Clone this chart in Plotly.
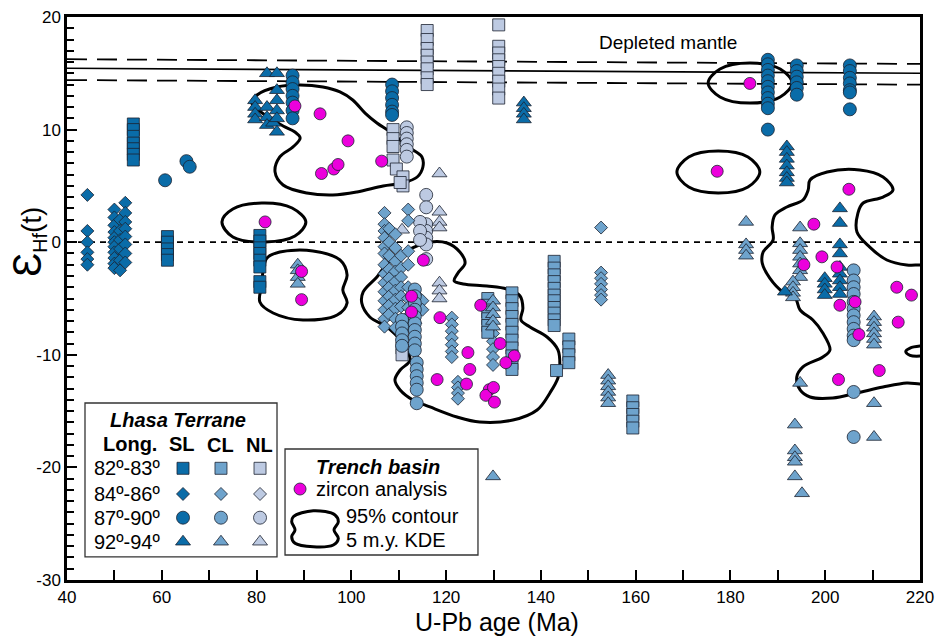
import plotly.graph_objects as go

FONT = "Liberation Sans, Arial, Helvetica, sans-serif"

# ---------------- data (age in Ma, eHf(t)) ----------------
# Depleted mantle band
dm_age = [40, 220]
dm_mid = [15.45, 15.0]
dm_hi = [16.25, 15.83]
dm_lo = [14.4, 13.99]

# axis ticks
x_ticks = [40, 60, 80, 100, 120, 140, 160, 180, 200, 220]
y_ticks = [20, 10, 0, -10, -20, -30]
y_tick_labels = ["20", "10", "0", "-10", "-20", "-30"]

# Lhasa terrane columns: (age, [eHf values])
sl_square = [(54.0, [10.5, 10.0, 9.4, 8.8, 8.3, 7.8, 7.3]),
             (61.2, [0.5, 0.0, -0.6, -1.1, -1.6]),
             (80.7, [0.6, 0.1, -0.5, -1.0, -1.6, -2.2, -3.5, -4.0])]
sl_diamond = [(44.3, [4.2, 1.0, 0.0, -0.9, -1.5, -2.0]),
              (50.0, [2.9, 2.2, 1.5, 0.9, 0.4, 0.0, -0.4, -0.9, -1.4, -1.9, -2.3]),
              (51.2, [2.0, 1.0, 0.2, -0.6, -1.6, -2.5]),
              (52.3, [3.5, 2.6, 1.8, 1.2, 0.5, -0.2, -1.0, -1.8])]
sl_circle = [(60.7, [5.5]), (65.2, [7.2]), (65.9, [6.7]),
             (87.6, [14.8, 14.2, 13.6, 13.0, 12.4, 11.7, 11.0]),
             (108.6, [14.0, 13.4, 12.8, 12.2, 11.6, 11.3]),
             (187.9, [16.2, 15.8, 15.3, 14.8, 14.3, 13.8, 13.3, 12.8, 12.3, 11.9, 10.0]),
             (194.0, [15.7, 15.2, 14.7, 14.2, 13.7, 13.1]),
             (205.2, [15.7, 15.2, 14.6, 14.1, 13.5, 13.3, 11.8])]
sl_triangle = [(79.7, [12.6, 12.0, 11.4, 10.9]),
               (82.2, [15.0, 12.0, 11.1, 10.4]),
               (83.5, [10.6]),
               (84.3, [15.0, 13.5, 12.6, 11.7, 11.0, 9.8]),
               (136.4, [12.4, 11.9, 11.4, 10.9]),
               (191.9, [8.5, 8.0, 7.4, 6.8, 6.2, 5.7, 5.3]),
               (203.1, [3.0, 1.7, -0.2, -1.0, -2.2, -2.8, -3.4, -4.0, -4.6]),
               (199.9, [-3.2, -3.7, -4.2, -4.7]),
               (191.5, [-4.4])]

cl_square = [(128.8, [-5.0, -5.6, -6.2, -6.8, -7.4, -8.0]),
             (133.9, [-4.5, -5.2, -5.9, -6.6, -7.3, -8.0, -8.7, -9.4, -10.1, -10.8, -11.3]),
             (142.8, [-1.7, -2.3, -2.9, -3.5, -4.1, -4.7, -5.2, -5.8, -6.3, -6.9, -7.4]),
             (143.3, [-11.4]),
             (145.9, [-8.6, -9.3, -10.0, -10.7]),
             (159.4, [-14.1, -14.7, -15.3, -15.9, -16.5])]
cl_diamond = [(107.0, [2.6, 1.6, 1.0, 0.4, -0.4, -1.0, -2.0, -2.8, -3.6, -4.4, -5.2, -6.0, -6.8, -7.5]),
              (108.0, [1.2, 0.0, -1.2, -2.4, -3.2, -4.0, -4.8, -5.6, -6.4]),
              (109.3, [0.7, -0.5, -1.7, -2.6, -3.5, -4.3, -5.1, -5.9, -6.8, -7.6]),
              (110.5, [-1.2, -2.3, -3.1, -4.0, -4.8, -5.7]),
              (112.0, [2.9, 1.9, -0.8, -2.0, -4.0, -5.0, -5.8, -6.6, -7.4]),
              (113.5, [-4.6, -5.4, -6.3, -7.2]),
              (115.0, [-5.2, -6.0]),
              (121.2, [-6.7, -7.3, -7.9, -8.5, -9.1, -9.7, -10.2]),
              (122.5, [-12.4, -12.9, -13.4, -13.9]),
              (129.9, [-8.1, -8.8, -9.5, -10.2, -10.9]),
              (152.7, [1.3, -2.7, -3.2, -3.7, -4.2, -4.7, -5.1])]
cl_circle = [(110.7, [-6.9, -7.5, -8.1, -8.7, -9.2]),
             (113.4, [-4.2, -4.8, -5.4, -6.0, -6.6, -7.2, -7.8, -8.4, -9.0, -9.6]),
             (113.8, [-10.7, -11.3, -11.9, -12.5, -13.1, -14.3]),
             (206.0, [-2.5, -3.4, -4.0, -4.6, -5.3, -5.9, -6.5, -7.1, -7.7, -8.3, -8.7, -13.3, -17.3])]
cl_triangle = [(88.7, [-2.0, -2.5, -3.1, -3.7]),
               (129.9, [-5.2, -5.8, -6.4, -7.0, -7.5, -20.8]),
               (154.2, [-11.8, -12.3, -12.8, -13.3, -13.8, -14.3]),
               (183.3, [1.8, -0.2, -0.7, -1.2]),
               (194.7, [1.3, -0.1, -0.7, -1.3, -1.9, -2.5, -3.1, -12.5]),
               (193.2, [-3.5, -4.0, -4.5, -4.9]),
               (193.6, [-16.2, -18.5, -19.1, -19.5, -20.8]),
               (195.1, [-22.3]),
               (210.3, [-6.6, -7.1, -7.6, -8.1, -8.6, -9.1, -14.3, -17.3])]

nl_square = [(116.0, [18.8, 18.0, 17.2, 16.6, 16.0, 15.4, 14.6, 14.0]),
             (131.1, [19.3, 17.4, 16.8, 16.2, 15.6, 15.0, 14.3, 13.6, 12.8]),
             (108.8, [10.0, 9.2, 8.5, 7.3]),
             (109.5, [6.5]),
             (110.9, [5.8, 5.0]),
             (110.3, [5.3]),
             (110.7, [-9.4, -10.0])]
nl_circle = [(111.7, [10.2, 9.7, 9.2, 8.7, 8.2, 7.6]),
             (115.8, [4.2, 3.1, 1.6, 1.0, 0.4, -0.2, -1.5]),
             (114.5, [1.8, 1.0, 0.2])]
nl_triangle = [(118.6, [6.1, 2.7, 1.8, 1.3, -3.6, -4.3, -5.0]),
               (110.7, [1.1])]

# Trench basin zircon analyses
zr_age = [88.1, 93.4, 99.3, 93.7, 96.3, 97.2, 106.4, 81.8, 89.5, 89.5,
          115.2, 112.7, 112.7, 118.7, 127.3, 131.4, 134.4, 132.6, 124.6, 125.0,
          118.1, 124.3, 129.1, 128.4, 130.0, 130.2,
          184.1, 177.2, 205.0, 197.6, 199.3, 195.5, 202.5, 203.1, 206.3, 207.1,
          202.8, 211.4, 215.1, 218.2, 215.4]
zr_ehf = [12.1, 11.4, 9.0, 6.1, 6.5, 6.9, 7.2, 1.8, -2.6, -5.1,
          -1.6, -4.8, -6.2, -6.7, -5.6, -9.0, -10.1, -10.7, -9.8, -11.3,
          -12.2, -12.6, -13.1, -13.6, -12.9, -14.2,
          14.1, 6.3, 4.7, 1.6, -1.3, -2.0, -2.2, -5.6, -5.3, -8.2,
          -12.2, -11.4, -4.0, -4.7, -7.1]

# 95% KDE contours (vertices, age / eHf)
ca_age = [80.1, 84.3, 89.2, 94.0, 97.6, 100.3, 102.9, 105.4, 108.2, 112.4, 114.9, 115.1,
          113.9, 110.9, 106.7, 101.2, 96.1, 90.6, 85.6, 83.9, 84.9, 87.7, 89.2, 88.1,
          85.6, 81.8, 79.0, 80.1]
ca_ehf = [13.07, 13.78, 13.96, 13.78, 13.34, 12.63, 11.47, 10.59, 9.79, 8.37, 7.57, 6.68,
          5.79, 5.26, 4.99, 4.46, 4.19, 4.37, 5.08, 6.24, 7.57, 8.46, 9.26, 9.79,
          10.32, 11.3, 12.36, 13.07]
cb_age = [72.7, 75.0, 81.1, 87.5, 90.4, 88.1, 81.8, 75.0, 72.7]
cb_ehf = [1.80, 2.95, 3.48, 3.04, 1.80, 0.55, 0.02, 0.46, 1.80]
cc_age = [82.2, 84.9, 91.9, 97.6, 99.1, 98.2, 99.1, 97.0, 89.8, 83.5, 80.7, 81.1, 81.4, 82.2]
cc_ehf = [-1.40, -0.87, -0.78, -1.58, -2.91, -4.24, -5.40, -6.47, -6.91, -6.29, -5.31,
          -3.80, -2.47, -1.40]
cd_age = [116.6, 120.2, 122.9, 124.0, 122.5, 121.7, 123.6, 128.6, 132.8, 135.6, 136.2,
          135.8, 137.7, 141.3, 143.6, 144.0, 143.6, 141.9, 139.2, 134.1, 127.1, 122.3,
          116.6, 113.0, 110.3, 109.2, 110.3, 112.4, 110.3, 107.5, 103.9, 102.2, 102.5,
          105.4, 107.7, 112.0, 116.6]
cd_ehf = [0.02, -0.07, -0.87, -1.85, -2.73, -3.44, -3.71, -3.89, -4.16, -4.78, -5.84,
          -6.91, -7.53, -8.42, -9.57, -10.91, -12.06, -13.39, -14.90, -15.79, -15.97, -15.52,
          -14.63, -14.01, -13.12, -12.24, -11.35, -10.46, -8.68, -7.53, -6.64, -5.40, -4.42,
          -3.09, -1.85, -0.69, 0.02]
ce_age = [175.3, 177.8, 184.1, 190.5, 193.0, 190.5, 184.1, 177.8, 175.3]
ce_ehf = [14.14, 15.38, 15.91, 15.38, 14.14, 12.90, 12.36, 12.90, 14.14]
cf_age = [168.7, 171.2, 177.4, 183.7, 186.2, 183.7, 177.4, 171.2, 168.7]
cf_ehf = [6.23, 7.57, 8.10, 7.57, 6.23, 4.90, 4.37, 4.90, 6.23]
cg_age = [196.8, 200.4, 207.3, 212.2, 214.3, 212.2, 208.0, 206.9, 206.7, 209.4, 213.0,
          217.2, 220.0, 224.0, 224.0, 220.0, 217.2, 212.2, 206.7, 201.6, 196.8, 194.7, 194.0,
          195.3, 199.5, 201.0, 199.5, 197.4, 194.7, 193.6, 191.1, 188.3, 186.7, 186.9,
          189.0, 188.8, 189.4, 191.9, 195.3, 196.4, 196.8]
cg_ehf = [5.52, 6.23, 6.41, 5.79, 4.64, 4.01, 3.48, 2.59, 0.91, -0.43, -1.58,
          -2.02, -2.02, -2.02, -12.6, -12.59, -12.50, -12.86, -13.39, -13.84, -13.75, -13.12,
          -11.97, -11.08, -10.19, -9.57, -8.06, -6.91, -6.02, -4.87, -4.42, -3.18, -1.85,
          -0.87, 0.20, 1.35, 2.42, 3.13, 3.75, 4.64, 5.52]
ch_age = [220.5, 217.9, 217.0, 217.9, 220.5]
ch_ehf = [-9.2, -9.4, -9.7, -10.05, -10.1]

# ---------------- styles ----------------
C_SL = "#0a6ca8"
C_CL = "#6ea3cc"
C_NL = "#bdcae2"
C_ZR = "#ec00dc"
EDGE = dict(color="#1c2230", width=0.8)
SIZES = {"square": 12, "diamond": 10, "circle": 13, "triangle-up": 13}


def expand(cols):
    xs, ys = [], []
    for a, vals in cols:
        for v in vals:
            xs.append(a)
            ys.append(v)
    return xs, ys


fig = go.Figure()

# reference lines
fig.add_trace(go.Scatter(x=[40, 220], y=[0, 0], mode="lines",
                         line=dict(color="black", width=1.8, dash="6px,5px"), hoverinfo="skip"))
fig.add_trace(go.Scatter(x=dm_age, y=dm_mid, mode="lines",
                         line=dict(color="black", width=1.6), hoverinfo="skip"))
for yy in (dm_hi, dm_lo):
    fig.add_trace(go.Scatter(x=dm_age, y=yy, mode="lines",
                             line=dict(color="black", width=1.8, dash="20px,10px"), hoverinfo="skip"))

# contours
for ax, ay in [(ca_age, ca_ehf), (cb_age, cb_ehf), (cc_age, cc_ehf), (cd_age, cd_ehf),
               (ce_age, ce_ehf), (cf_age, cf_ehf), (cg_age, cg_ehf), (ch_age, ch_ehf)]:
    fig.add_trace(go.Scatter(x=ax, y=ay, mode="lines",
                             line=dict(color="black", width=3, shape="spline", smoothing=1.0),
                             hoverinfo="skip"))

# Lhasa terrane data (drawn light -> dark)
groups = [
    (nl_square, "square", C_NL), (nl_circle, "circle", C_NL), (nl_triangle, "triangle-up", C_NL),
    (cl_diamond, "diamond", C_CL), (cl_square, "square", C_CL), (cl_circle, "circle", C_CL),
    (cl_triangle, "triangle-up", C_CL),
    (sl_square, "square", C_SL), (sl_diamond, "diamond", C_SL), (sl_circle, "circle", C_SL),
    (sl_triangle, "triangle-up", C_SL),
]
for cols, sym, col in groups:
    xs, ys = expand(cols)
    fig.add_trace(go.Scatter(x=xs, y=ys, mode="markers",
                             marker=dict(symbol=sym, size=SIZES[sym], color=col, line=EDGE),
                             cliponaxis=False))

# zircon analyses
fig.add_trace(go.Scatter(x=zr_age, y=zr_ehf, mode="markers",
                         marker=dict(symbol="circle", size=12, color=C_ZR, line=EDGE)))

# ---------------- legend keys (overlay axes, fractions of plot area) ----------------
key_cols = [0.1360, 0.1805, 0.2263]
key_rows = [0.1984, 0.1528, 0.1107, 0.0680]
key_syms = ["square", "diamond", "circle", "triangle-up"]
for ci, col in enumerate([C_SL, C_CL, C_NL]):
    for ri, sym in enumerate(key_syms):
        fig.add_trace(go.Scatter(x=[key_cols[ci]], y=[key_rows[ri]], mode="markers",
                                 xaxis="x2", yaxis="y2",
                                 marker=dict(symbol=sym, size=SIZES[sym], color=col, line=EDGE)))
fig.add_trace(go.Scatter(x=[0.2732], y=[0.1616], mode="markers", xaxis="x2", yaxis="y2",
                         marker=dict(symbol="circle", size=12, color=C_ZR, line=EDGE)))
blob_x = [0.2653, 0.2887, 0.3142, 0.3181, 0.3130, 0.3181, 0.3122, 0.2887, 0.2673, 0.2634,
          0.2673, 0.2634, 0.2653]
blob_y = [0.1124, 0.1231, 0.1155, 0.1036, 0.0888, 0.0741, 0.0622, 0.0591, 0.0652, 0.0769,
          0.0888, 0.1036, 0.1124]
fig.add_trace(go.Scatter(x=blob_x, y=blob_y, mode="lines", xaxis="x2", yaxis="y2",
                         line=dict(color="black", width=3, shape="spline", smoothing=1.0)))

shapes = [
    dict(type="rect", xref="paper", yref="paper", x0=0.0211, x1=0.2462, y0=0.0409, y1=0.3144,
         line=dict(color="#333", width=1.3), fillcolor="white", layer="below"),
    dict(type="rect", xref="paper", yref="paper", x0=0.2556, x1=0.4818, y0=0.0444, y1=0.2327,
         line=dict(color="#333", width=1.3), fillcolor="white", layer="below"),
]

ann = []


def A(text, x, y, size=20, xanchor="center", xref="paper", yref="paper", **kw):
    ann.append(dict(text=text, x=x, y=y, xref=xref, yref=yref, showarrow=False,
                    xanchor=xanchor, yanchor="middle",
                    font=dict(family=FONT, size=size, color="black"), **kw))


A("<b><i>Lhasa Terrane</i></b>", 0.1301, 0.2842, size=20)
A("<b>Long.</b>", 0.0739, 0.2420, size=20)
A("<b>SL</b>", 0.1348, 0.2420, size=20)
A("<b>CL</b>", 0.1805, 0.2400, size=20)
A("<b>NL</b>", 0.2251, 0.2400, size=20)
for lab, yy in zip(["82º-83º", "84º-86º", "87º-90º", "92º-94º"], key_rows):
    A(lab, 0.0703, yy, size=20)
A("<b><i>Trench basin</i></b>", 0.3646, 0.2007, size=20)
A("zircon analysis", 0.2890, 0.1616, size=20, xanchor="left")
A("95% contour", 0.3250, 0.1137, size=20, xanchor="left")
A("5 m.y. KDE", 0.3250, 0.0710, size=20, xanchor="left")
A("Depleted mantle", 166.8, 17.7, size=19, xref="x", yref="y")
A("U-Pb age (Ma)", 0.5041, -0.0746, size=25)
A("<span style='font-size:40px'>Ɛ</span><sub>Hf</sub>(t)", -0.0450, 0.6000, size=28, textangle=-90)

fig.update_layout(
    width=936, height=636,
    margin=dict(l=67, r=16, t=17, b=56, autoexpand=False),
    paper_bgcolor="white", plot_bgcolor="white",
    showlegend=False,
    font=dict(family=FONT, size=17, color="black"),
    shapes=shapes, annotations=ann,
    xaxis=dict(range=[40, 220], tickvals=x_ticks, ticks="inside", ticklen=10, tickwidth=1.8,
               tickcolor="black", showline=True, linecolor="black", linewidth=2.5, mirror=True,
               showgrid=False, zeroline=False, tickfont=dict(size=17), automargin=False,
               minor=dict(dtick=10, ticks="inside", ticklen=10, tickwidth=1.8, tickcolor="black",
                          showgrid=False)),
    yaxis=dict(range=[-30, 20], tickvals=y_ticks, ticktext=y_tick_labels, ticks="inside",
               ticklen=10, tickwidth=1.8, automargin=False,
               tickcolor="black", showline=True, linecolor="black", linewidth=2.5, mirror=True,
               showgrid=False, zeroline=False, tickfont=dict(size=17),
               minor=dict(dtick=1, ticks="inside", ticklen=7, tickwidth=1.5, tickcolor="black",
                          showgrid=False)),
    xaxis2=dict(range=[0, 1], overlaying="x", visible=False, fixedrange=True, automargin=False),
    yaxis2=dict(range=[0, 1], overlaying="y", visible=False, fixedrange=True, automargin=False),
)

# remove the default 8px page margin so the 936x636 figure fills the window exactly
fig.write_html("out.html", config={"displayModeBar": False},
               post_script="document.body.style.margin='0px';document.body.style.overflow='hidden';")
